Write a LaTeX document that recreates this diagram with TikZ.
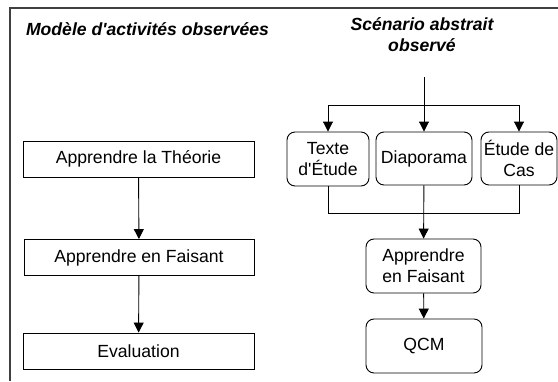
\documentclass[tikz,border=0pt]{standalone}
\usepackage{fontspec}
\setmainfont{Liberation Sans}
\usetikzlibrary{arrows.meta}

\tikzset{
    box/.style={draw, line width=0.9pt, rectangle, inner sep=0pt, minimum height=36pt},
    rbox/.style={draw, line width=0.9pt, rectangle, rounded corners=8pt, inner sep=0pt, minimum height=54pt, align=center},
    arr/.style={line width=0.9pt, -{Triangle[length=10pt,width=10pt]}},
    link/.style={line width=0.9pt},
    titre/.style={font=\fontsize{17.6}{21}\selectfont\bfseries\itshape, align=center}
}

\begin{document}
\begin{tikzpicture}[x=1pt, y=-1pt, font=\fontsize{17.6}{21}\selectfont]
    \useasboundingbox (0,0) rectangle (558,381);

    % Frame
    \draw[black!75, line width=1.2pt] (10,381) -- (10,8) -- (558,8);

    % Titles
    \node[titre] (titreA) at (147.5, 29) {Modèle d\textquotesingle activités observées};
    \node[titre] (titreB) at (422, 34.5) {Scénario abstrait\\observé};

    % Observed activities
    \node[box, minimum width=231pt] (theorie) at (138.5, 159) {Apprendre la Théorie};
    \node[box, minimum width=230pt] (faisantA) at (139, 257.5) {Apprendre en Faisant};
    \node[box, minimum width=231pt] (evaluation) at (138.5, 351) {Evaluation};

    \draw[arr] (theorie) -- (faisantA);
    \draw[arr] (faisantA) -- (evaluation);

    % Abstract scenario
    \coordinate (haut) at (424, 77);
    \coordinate (fourche) at (424, 105);
    \coordinate (jonction) at (424, 213);

    \node[rbox, minimum width=82pt] (texte) at (328, 159) {Texte\\d\textquotesingle Étude};
    \node[rbox, minimum width=96pt, minimum height=53pt] (diaporama) at (424, 158.5) {Diaporama};
    \node[rbox, minimum width=76pt, minimum height=53pt] (etude) at (519, 158.5) {Étude de\\Cas};
    \node[rbox, minimum width=115pt] (faisantB) at (423.5, 266) {Apprendre\\en Faisant};
    \node[rbox, minimum width=116pt] (qcm) at (424, 346) {QCM};

    \draw[link] (haut) -- (fourche);
    \draw[arr] (fourche) -| (texte);
    \draw[arr] (fourche) -- (diaporama);
    \draw[arr] (fourche) -| (etude);

    \draw[link] (texte) |- (jonction);
    \draw[link] (etude) |- (jonction);
    \draw[arr] (diaporama) -- (faisantB);
    \draw[arr] (faisantB) -- (qcm);

\end{tikzpicture}
\end{document}
